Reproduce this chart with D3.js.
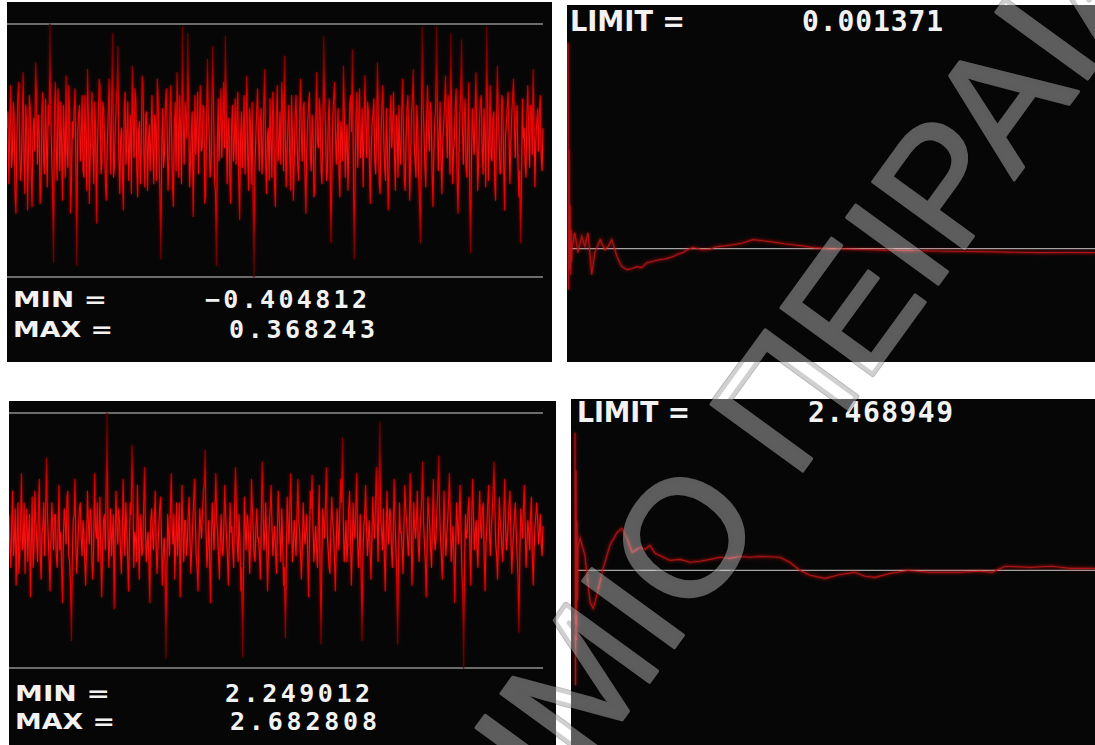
<!DOCTYPE html>
<html>
<head>
<meta charset="utf-8">
<script src="https://cdn.jsdelivr.net/npm/d3@7"></script>
<style>
  html, body { margin: 0; padding: 0; background: #ffffff; }
  svg { display: block; }
</style>
</head>
<body>
<svg id="chart" width="1095" height="745"></svg>
<script>
// ---- Samples of the first signal (zero-mean noise) ----
const noiseTop = [
  0.05, 0.10, -0.12, 0.04, 0.18, -0.07, -0.03, 0.13, 0.09, -0.16, -0.21, 0.01, 0.14, 0.19, 0.02, -0.11, -0.08, 0.07, 0.22, -0.04, -0.15, 0.12, 0.06, -0.20, -0.02, 0.15, 0.11, -0.09, -0.19, 0.03, 0.08, -0.02, 0.25, 0.16, -0.06, 0.09, 0.03, -0.18, -0.13, 0.11,
  0.16, -0.05, -0.09, 0.14, 0.01, -0.13, 0.12, 0.06, 0.368243, 0.08, -0.04, -0.15, -0.36, 0.10, 0.19, -0.02, -0.11, 0.17, 0.07, -0.08, 0.13, 0.00, -0.17, 0.12, 0.04, -0.10, 0.21, -0.03, -0.07, 0.18, 0.10, -0.21, -0.14, 0.07, 0.02, 0.11, 0.17, -0.06, -0.37, 0.04,
  0.09, 0.12, -0.05, 0.03, 0.15, -0.08, -0.10, 0.15, 0.04, -0.14, 0.23, 0.09, -0.18, -0.03, 0.06, 0.16, -0.01, -0.12, 0.13, 0.05, -0.24, -0.01, 0.08, 0.20, 0.18, -0.09, -0.06, 0.13, 0.11, 0.02, -0.12, -0.17, 0.00, 0.08, 0.20, 0.06, -0.09, 0.14, 0.34, -0.10,
  -0.07, 0.05, 0.12, 0.18, 0.30, -0.04, -0.15, 0.02, 0.05, -0.09, -0.20, 0.11, 0.16, -0.06, 0.03, 0.13, -0.11, 0.00, 0.09, -0.15, 0.24, 0.08, -0.04, 0.17, 0.14, -0.07, -0.16, 0.04, 0.07, -0.12, -0.02, 0.21, 0.19, -0.03, -0.13, 0.09, 0.10, -0.14, 0.01, 0.06,
  -0.08, 0.03, 0.15, -0.02, -0.12, 0.09, 0.06, -0.11, 0.20, 0.14, -0.05, -0.16, -0.35, 0.01, 0.11, -0.07, -0.03, 0.12, 0.17, 0.04, -0.14, -0.05, 0.08, 0.18, 0.02, -0.13, -0.19, 0.06, 0.13, -0.08, 0.22, 0.10, -0.10, 0.15, 0.05, -0.12, 0.36, 0.07, -0.06, 0.13,
  0.09, 0.02, 0.34, 0.11, -0.13, -0.06, 0.04, 0.10, -0.22, -0.04, 0.15, -0.03, 0.07, 0.16, -0.09, 0.05, 0.18, -0.02, -0.01, 0.12, 0.11, -0.18, -0.16, 0.07, 0.26, 0.09, 0.03, -0.10, -0.07, 0.14, 0.30, 0.08, -0.11, -0.15, -0.37, 0.00, 0.14, -0.05, 0.06, 0.17,
  -0.04, 0.08, 0.19, -0.01, 0.33, 0.12, -0.12, 0.03, 0.08, -0.10, -0.18, 0.06, 0.12, -0.05, 0.01, 0.14, -0.06, 0.09, 0.16, -0.11, -0.23, 0.02, 0.10, -0.07, 0.04, 0.15, -0.09, 0.05, 0.21, -0.03, -0.14, 0.11, 0.07, -0.12, 0.13, -0.16, -0.404812, -0.08, 0.02, 0.10,
  0.17, 0.04, -0.08, 0.06, 0.11, -0.09, -0.02, 0.13, 0.23, -0.04, -0.15, 0.02, 0.05, -0.11, 0.14, 0.01, -0.10, 0.16, 0.08, -0.13, -0.19, 0.08, 0.18, -0.05, 0.00, 0.10, -0.06, 0.19, 0.12, -0.08, 0.27, 0.05, -0.13, -0.02, 0.06, 0.12, -0.03, -0.14, 0.15, 0.03,
  -0.17, -0.06, 0.09, 0.15, 0.02, -0.07, -0.11, 0.08, 0.20, 0.03, -0.05, 0.11, 0.13, -0.10, -0.21, -0.02, 0.07, 0.12, 0.16, -0.04, -0.08, 0.09, 0.04, -0.16, -0.14, 0.06, 0.22, 0.01, -0.01, 0.14, 0.10, -0.08, -0.12, 0.04, 0.33, 0.13, 0.05, -0.11, -0.09, 0.07,
  0.14, -0.03, -0.30, -0.12, 0.08, 0.14, 0.19, 0.05, -0.06, 0.02, 0.11, -0.09, -0.16, 0.07, 0.03, -0.05, 0.24, 0.10, -0.10, 0.01, 0.06, -0.14, -0.02, 0.12, 0.15, 0.04, 0.29, -0.06, -0.35, -0.11, 0.09, 0.16, -0.07, 0.08, 0.17, -0.04, 0.01, 0.11, -0.13, 0.05,
  0.21, 0.07, -0.04, 0.13, 0.10, -0.06, -0.18, -0.02, 0.06, 0.10, 0.14, -0.05, -0.09, 0.04, 0.25, 0.09, -0.12, -0.15, 0.03, 0.12, 0.18, 0.02, -0.07, -0.11, 0.11, 0.00, -0.20, -0.08, 0.08, 0.15, -0.01, 0.06, 0.16, -0.03, -0.14, 0.09, 0.05, -0.10, 0.12, -0.01,
  -0.06, 0.08, 0.20, 0.05, -0.11, -0.14, 0.02, 0.11, 0.15, 0.03, -0.17, -0.06, 0.09, 0.14, 0.23, 0.01, -0.05, -0.10, 0.12, 0.06, -0.09, -0.18, -0.30, 0.02, 0.36, 0.12, 0.04, -0.07, -0.13, 0.09, 0.18, 0.04, -0.02, 0.13, 0.10, -0.08, -0.19, -0.03, 0.07, 0.11,
  0.36, 0.10, -0.08, 0.03, 0.13, -0.05, -0.15, 0.01, 0.06, 0.12, 0.21, 0.07, -0.04, 0.15, 0.09, -0.09, 0.34, 0.06, -0.12, -0.02, 0.02, 0.13, 0.17, -0.11, -0.21, -0.04, 0.08, 0.16, 0.32, 0.05, -0.06, 0.09, 0.14, -0.07, -0.10, 0.03, 0.19, -0.12, -0.33, -0.06,
  0.11, 0.04, -0.03, 0.09, 0.22, 0.05, -0.14, -0.06, 0.07, 0.13, 0.15, -0.02, -0.09, 0.11, 0.04, -0.13, 0.36, 0.14, -0.11, 0.02, 0.18, -0.04, -0.05, 0.08, 0.10, -0.12, -0.17, 0.06, 0.24, 0.10, 0.01, -0.09, -0.08, 0.15, 0.13, -0.05, -0.20, 0.02, 0.06, 0.12,
  0.16, 0.03, -0.12, -0.01, 0.09, 0.14, 0.20, 0.07, -0.04, 0.08, 0.12, -0.05, -0.16, -0.08, -0.30, -0.11, 0.14, 0.02, 0.05, -0.06, -0.10, 0.09, 0.18, 0.04, -0.07, 0.12, 0.11, -0.03, 0.23, 0.06, -0.13, 0.01, 0.07, 0.11, -0.02, 0.10, 0.15, -0.04, -0.08, 0.05
];

// ---- Samples of the second signal (noise around 2.47) ----
const noiseBottom = [
  2.51, 2.46, 2.42, 2.49, 2.55, 2.44, 2.47, 2.52, 2.39, 2.47, 2.53, 2.41, 2.44, 2.50, 2.58, 2.45, 2.46, 2.53, 2.41, 2.48, 2.52, 2.43, 2.48, 2.51, 2.37, 2.46, 2.54, 2.42, 2.45, 2.55, 2.50, 2.47, 2.43, 2.52, 2.57, 2.44, 2.40, 2.48, 2.49, 2.53,
  2.44, 2.50, 2.606, 2.52, 2.47, 2.43, 2.38, 2.46, 2.53, 2.49, 2.45, 2.51, 2.51, 2.44, 2.42, 2.48, 2.56, 2.45, 2.48, 2.42, 2.36, 2.47, 2.52, 2.50, 2.46, 2.54, 2.55, 2.44, 2.43, 2.39, 2.296, 2.43, 2.50, 2.51, 2.57, 2.46, 2.41, 2.45, 2.49, 2.52,
  2.53, 2.47, 2.44, 2.50, 2.48, 2.43, 2.39, 2.45, 2.55, 2.50, 2.46, 2.52, 2.51, 2.43, 2.40, 2.46, 2.58, 2.49, 2.47, 2.53, 2.43, 2.48, 2.54, 2.44, 2.37, 2.45, 2.50, 2.51, 2.45, 2.56, 2.682808, 2.49, 2.42, 2.47, 2.52, 2.44, 2.48, 2.51, 2.35, 2.46,
  2.55, 2.49, 2.46, 2.52, 2.50, 2.45, 2.41, 2.47, 2.57, 2.50, 2.44, 2.53, 2.49, 2.44, 2.38, 2.46, 2.53, 2.51, 2.628, 2.55, 2.42, 2.48, 2.47, 2.43, 2.56, 2.50, 2.40, 2.47, 2.51, 2.44, 2.45, 2.52, 2.59, 2.49, 2.43, 2.46, 2.48, 2.42, 2.36, 2.50,
  2.52, 2.48, 2.45, 2.50, 2.55, 2.46, 2.41, 2.45, 2.49, 2.52, 2.54, 2.47, 2.39, 2.44, 2.47, 2.43, 2.266, 2.41, 2.51, 2.48, 2.44, 2.52, 2.58, 2.49, 2.46, 2.51, 2.40, 2.46, 2.53, 2.44, 2.48, 2.53, 2.37, 2.45, 2.56, 2.48, 2.43, 2.50, 2.50, 2.44,
  2.46, 2.51, 2.54, 2.47, 2.41, 2.45, 2.49, 2.53, 2.57, 2.50, 2.44, 2.42, 2.38, 2.46, 2.52, 2.49, 2.47, 2.51, 2.55, 2.56, 2.62, 2.48, 2.42, 2.45, 2.50, 2.44, 2.36, 2.47, 2.53, 2.49, 2.45, 2.52, 2.58, 2.50, 2.48, 2.44, 2.40, 2.47, 2.51, 2.45,
  2.44, 2.49, 2.56, 2.51, 2.47, 2.44, 2.39, 2.46, 2.53, 2.48, 2.49, 2.45, 2.42, 2.52, 2.59, 2.53, 2.46, 2.43, 2.51, 2.47, 2.38, 2.42, 2.268, 2.40, 2.54, 2.49, 2.45, 2.51, 2.50, 2.46, 2.41, 2.47, 2.57, 2.52, 2.48, 2.44, 2.43, 2.49, 2.52, 2.47,
  2.47, 2.44, 2.40, 2.50, 2.60, 2.53, 2.45, 2.48, 2.53, 2.46, 2.38, 2.44, 2.50, 2.52, 2.56, 2.49, 2.44, 2.47, 2.49, 2.45, 2.41, 2.48, 2.55, 2.51, 2.47, 2.43, 2.52, 2.46, 2.39, 2.42, 2.30, 2.41, 2.54, 2.50, 2.46, 2.52, 2.58, 2.49, 2.43, 2.46,
  2.50, 2.47, 2.44, 2.51, 2.57, 2.50, 2.48, 2.44, 2.40, 2.45, 2.53, 2.49, 2.46, 2.48, 2.51, 2.44, 2.37, 2.46, 2.55, 2.52, 2.577, 2.49, 2.43, 2.46, 2.49, 2.45, 2.42, 2.50, 2.56, 2.41, 2.29, 2.44, 2.52, 2.50, 2.47, 2.53, 2.59, 2.48, 2.45, 2.42,
  2.41, 2.48, 2.54, 2.50, 2.48, 2.44, 2.38, 2.45, 2.52, 2.49, 2.45, 2.51, 2.57, 2.53, 2.64, 2.50, 2.43, 2.46, 2.50, 2.43, 2.46, 2.52, 2.55, 2.48, 2.39, 2.45, 2.53, 2.49, 2.47, 2.52, 2.58, 2.47, 2.42, 2.46, 2.51, 2.41, 2.296, 2.44, 2.49, 2.51,
  2.56, 2.49, 2.44, 2.47, 2.50, 2.45, 2.40, 2.46, 2.54, 2.50, 2.47, 2.52, 2.59, 2.51, 2.43, 2.55, 2.667, 2.50, 2.48, 2.45, 2.52, 2.44, 2.38, 2.47, 2.55, 2.49, 2.46, 2.52, 2.51, 2.45, 2.42, 2.48, 2.57, 2.50, 2.45, 2.40, 2.29, 2.43, 2.53, 2.48,
  2.48, 2.45, 2.41, 2.49, 2.56, 2.52, 2.50, 2.47, 2.44, 2.48, 2.58, 2.51, 2.39, 2.45, 2.53, 2.49, 2.47, 2.50, 2.55, 2.46, 2.43, 2.48, 2.51, 2.54, 2.60, 2.50, 2.46, 2.43, 2.37, 2.46, 2.54, 2.51, 2.49, 2.45, 2.42, 2.50, 2.57, 2.48, 2.45, 2.47,
  2.52, 2.55, 2.61, 2.52, 2.47, 2.44, 2.40, 2.46, 2.55, 2.49, 2.44, 2.47, 2.50, 2.53, 2.58, 2.51, 2.43, 2.46, 2.49, 2.44, 2.36, 2.45, 2.53, 2.50, 2.46, 2.51, 2.56, 2.48, 2.41, 2.38, 2.249012, 2.42, 2.51, 2.47, 2.48, 2.52, 2.54, 2.45, 2.39, 2.50,
  2.57, 2.51, 2.45, 2.48, 2.50, 2.45, 2.42, 2.50, 2.55, 2.49, 2.47, 2.52, 2.53, 2.44, 2.38, 2.46, 2.49, 2.53, 2.56, 2.48, 2.44, 2.49, 2.51, 2.55, 2.60, 2.52, 2.46, 2.44, 2.40, 2.47, 2.54, 2.50, 2.48, 2.45, 2.43, 2.51, 2.57, 2.49, 2.45, 2.47,
  2.50, 2.53, 2.55, 2.47, 2.41, 2.45, 2.48, 2.51, 2.53, 2.48, 2.44, 2.40, 2.31, 2.44, 2.52, 2.50, 2.47, 2.52, 2.56, 2.49, 2.42, 2.46, 2.50, 2.48, 2.45, 2.51, 2.54, 2.44, 2.39, 2.45, 2.49, 2.51, 2.53, 2.50, 2.46, 2.48, 2.51, 2.46, 2.44, 2.49
];

// ---- Running mean of the first signal: sample number and mean value ----
const meanStepsTop = [
  0, 1, 2, 3, 4, 5, 6, 7, 8, 13, 19, 26, 32, 38, 45, 51, 61, 70, 76,
  83, 93, 102, 112, 122, 131, 140, 150, 160, 175, 185, 199, 208, 218, 228, 237, 246, 256, 270, 283,
  298, 313, 330, 351, 370, 397, 410, 427, 445, 465, 480, 497, 530, 573, 620, 668, 720, 782, 840, 896,
  950, 1000
];
const meanValuesTop = [
  0.1202, -0.0223, 0.0585, -0.0107, 0.0268, -0.0136, 0.0124, -0.0061, 0.0027, 0.0106, -0.0009, 0.0085, 0.0027, 0.0106, -0.0136, -0.0009, 0.0066, 0.0008, 0.0026,
  0.0066, -0.0032, -0.0090, -0.0107, -0.0100, -0.0090, -0.0095, -0.0067, -0.0060, -0.0049, -0.0045, -0.0032, -0.0018, -0.0009, 0.0010, 0.0020, 0.0015, 0.0008, 0.0012, 0.0026,
  0.0030, 0.0037, 0.0045, 0.0066, 0.0060, 0.0049, 0.0042, 0.0037, 0.0030, 0.0020, 0.0017, 0.0014, 0.0012, 0.0008, 0.0004, 0.0002, -0.0001, -0.0003, -0.0006, -0.0009,
  -0.0008, -0.0009
];
const limitTop = 0.001371;

// ---- Running mean of the second signal ----
const meanStepsBottom = [
  0, 1, 2, 3, 4, 5, 6, 10, 19, 29, 35, 42, 54, 67, 81, 90, 100,
  110, 125, 135, 144, 154, 163, 183, 202, 221, 240,
  260, 279, 298, 317, 337, 356, 394, 413, 433, 452,
  481, 510, 538, 558, 577, 606, 640, 683, 737, 779,
  802, 827, 875, 917, 952, 1000
];
const meanValuesBottom = [
  2.5486, 2.4026, 2.5266, 2.4286, 2.4978, 2.4516, 2.4834, 2.4874, 2.4776, 2.4505, 2.4470, 2.4545, 2.4701, 2.4834, 2.4909, 2.4932, 2.4874,
  2.4793, 2.4822, 2.4811, 2.4834, 2.4788, 2.4776, 2.4747, 2.4753, 2.4736, 2.4742,
  2.4753, 2.4765, 2.4759, 2.4770, 2.4765, 2.4770, 2.4765, 2.4736, 2.4689, 2.4661,
  2.4643, 2.4666, 2.4678, 2.4655, 2.4649, 2.4672, 2.4689, 2.4678, 2.4678, 2.4684,
  2.4678, 2.4713, 2.4707, 2.4713, 2.4701, 2.4701
];
const limitBottom = 2.468949;

// ---- Labels ----
const minLabel = "MIN =";
const maxLabel = "MAX =";
const limitLabel = "LIMIT =";
const watermarkText = "ΠΑΝΕΠΙΣΤΗΜΙΟ ΠΕΙΡΑΙΑ";

// ---------------------------------------------------------------
const svg = d3.select("#chart");
const defs = svg.append("defs");
defs.append("filter").attr("id", "glow")
  .attr("x", "-10%").attr("y", "-10%").attr("width", "120%").attr("height", "120%")
  .append("feGaussianBlur").attr("stdDeviation", 1.6);

const fmt = d3.format(".6f");
const PANEL_BG = "#060606";
const TEXT_FILL = "#f2f2f2";

let clipId = 0;
function panelFrame(p) {
  const id = "clip" + (clipId++);
  defs.append("clipPath").attr("id", id)
    .append("rect").attr("x", p.x).attr("y", p.y).attr("width", p.w).attr("height", p.h);
  const g = svg.append("g").attr("clip-path", `url(#${id})`);
  g.append("rect").attr("x", p.x).attr("y", p.y).attr("width", p.w).attr("height", p.h)
    .attr("fill", PANEL_BG);
  return g;
}

function addLabel(g, text, x, y, size, len, mono) {
  g.append("text")
    .attr("x", x).attr("y", y)
    .attr("fill", TEXT_FILL)
    .attr("font-family", mono ? "DejaVu Sans Mono, monospace" : "DejaVu Sans, sans-serif")
    .attr("font-weight", "bold")
    .attr("font-size", size)
    .attr("textLength", len)
    .attr("lengthAdjust", mono ? "spacing" : "spacingAndGlyphs")
    .text(text);
}

// Vertical colour ramp: bright red in the dense core, darker toward the extremes
let gradId = 0;
function noiseGradient(yTop, yBottom) {
  const id = "noiseGrad" + (gradId++);
  const grad = defs.append("linearGradient").attr("id", id)
    .attr("gradientUnits", "userSpaceOnUse")
    .attr("x1", 0).attr("x2", 0).attr("y1", yTop).attr("y2", yBottom);
  [[0, "#5a0000"], [0.16, "#8c0000"], [0.28, "#dc0000"], [0.5, "#ff1010"],
   [0.72, "#dc0000"], [0.84, "#8c0000"], [1, "#5a0000"]]
    .forEach(([o, c]) => grad.append("stop").attr("offset", o).attr("stop-color", c));
  return `url(#${id})`;
}

// Noise trace bounded by its minimum and maximum guide lines
function noisePanel(p, values) {
  const g = panelFrame(p);
  const lo = d3.min(values), hi = d3.max(values);
  const x = d3.scaleLinear().domain([0, values.length - 1]).range([p.x0, p.x1]);
  const y = d3.scaleLinear().domain([lo, hi]).range([p.yLo, p.yHi]);

  g.selectAll("line.guide").data([hi, lo]).join("line")
    .attr("class", "guide")
    .attr("x1", p.x).attr("x2", p.x1)
    .attr("y1", d => y(d)).attr("y2", d => y(d))
    .attr("stroke", "#6c6c6c").attr("stroke-width", 2);

  const paint = noiseGradient(p.yHi, p.yLo);
  const line = d3.line().x((d, i) => x(i)).y(d => y(d));
  g.append("path").datum(values)
    .attr("d", line)
    .attr("fill", "none")
    .attr("stroke", paint)
    .attr("stroke-opacity", 0.4)
    .attr("stroke-width", 2.5)
    .attr("filter", "url(#glow)");
  g.append("path").datum(values)
    .attr("d", line)
    .attr("fill", "none")
    .attr("stroke", paint)
    .attr("stroke-width", 1.1)
    .attr("stroke-linejoin", "round");

  addLabel(g, minLabel, p.labelX, p.row1, p.labelSize, p.minLen, false);
  addLabel(g, maxLabel, p.labelX, p.row2, p.labelSize, p.maxLen, false);
  addLabel(g, fmt(lo), p.minNumX, p.row1 + 1, p.numSize, p.minNumLen, true);
  addLabel(g, fmt(hi), p.maxNumX, p.row2 + 1, p.numSize, p.maxNumLen, true);
}

// Running mean converging to its limit line
function meanPanel(p, steps, values, limit) {
  const g = panelFrame(p);
  const x = d3.scaleLinear().domain([0, 1000]).range([p.x0, p.x1]);
  const y = d3.scaleLinear().domain(p.domain).range([p.y + p.h, p.y]);

  g.append("line")
    .attr("x1", p.x0 + 2).attr("x2", p.x + p.w)
    .attr("y1", y(limit)).attr("y2", y(limit))
    .attr("stroke", "#a4a4a4").attr("stroke-width", 1.2);

  const pts = steps.map((s, i) => [s, values[i]]);
  const line = d3.line().x(d => x(d[0])).y(d => y(d[1]));
  g.append("path").datum(pts)
    .attr("d", line)
    .attr("fill", "none")
    .attr("stroke", "#ff1a1a")
    .attr("stroke-opacity", 0.4)
    .attr("stroke-width", 3)
    .attr("filter", "url(#glow)");
  g.append("path").datum(pts)
    .attr("d", line)
    .attr("fill", "none")
    .attr("stroke", "#c01414")
    .attr("stroke-opacity", 0.85)
    .attr("stroke-width", 1.1);

  addLabel(g, limitLabel, p.labelX, p.row, 28, p.labelLen, false);
  addLabel(g, fmt(limit), p.numX, p.row, 28, p.numLen, true);
}

noisePanel({
  x: 7, y: 2, w: 545, h: 360, x0: 7, x1: 543, yHi: 24, yLo: 277,
  labelX: 13, row1: 307, row2: 337, labelSize: 21, minLen: 94, maxLen: 100,
  minNumX: 205, maxNumX: 229, numSize: 25, minNumLen: 162, maxNumLen: 146
}, noiseTop);

noisePanel({
  x: 9, y: 401, w: 547, h: 344, x0: 9, x1: 543, yHi: 413, yLo: 668,
  labelX: 15, row1: 701, row2: 729, labelSize: 21, minLen: 95, maxLen: 100,
  minNumX: 225, maxNumX: 230, numSize: 25, minNumLen: 145, maxNumLen: 147
}, noiseBottom);

meanPanel({
  x: 567, y: 5, w: 528, h: 357, x0: 568, x1: 1095, domain: [-0.064, 0.142],
  labelX: 570, row: 31, labelLen: 115, numX: 802, numLen: 141
}, meanStepsTop, meanValuesTop, limitTop);

meanPanel({
  x: 571, y: 399, w: 524, h: 346, x0: 575, x1: 1095, domain: [2.368, 2.568],
  labelX: 577, row: 422, labelLen: 113, numX: 808, numLen: 145
}, meanStepsBottom, meanValuesBottom, limitBottom);

// Diagonal watermark across the sheet: faint dark rim, then a translucent white body
const markTransform = "translate(29,1536) rotate(-54)";
svg.append("text")
  .attr("transform", markTransform)
  .attr("font-family", "Liberation Sans, Arial, sans-serif")
  .attr("font-size", 165)
  .attr("fill", "none")
  .attr("stroke", "#000000")
  .attr("stroke-opacity", 0.28)
  .attr("stroke-width", 5)
  .attr("stroke-linejoin", "round")
  .text(watermarkText);
svg.append("g").attr("opacity", 0.35)
  .append("text")
  .attr("transform", markTransform)
  .attr("font-family", "Liberation Sans, Arial, sans-serif")
  .attr("font-size", 165)
  .attr("fill", "#ffffff")
  .attr("stroke", "#ffffff")
  .attr("stroke-width", 3)
  .attr("stroke-linejoin", "round")
  .text(watermarkText);
</script>
</body>
</html>
